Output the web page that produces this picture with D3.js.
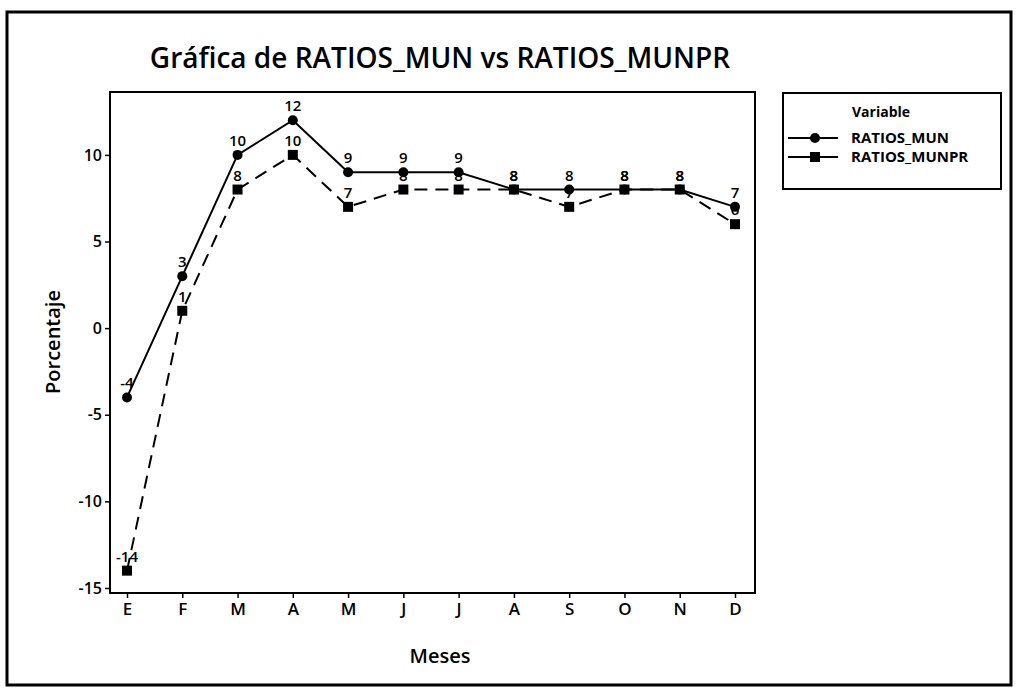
<!DOCTYPE html>
<html><head><meta charset="utf-8">
<script src="https://cdn.jsdelivr.net/npm/d3@7"></script>
<style>body{margin:0;background:#fff}svg text{font-family:"Open Sans",sans-serif;fill:#000}</style>
</head><body><svg id="c" width="1016" height="692"></svg>
<script>
const months = ["E","F","M","A","M","J","J","A","S","O","N","D"];
const ratiosMun = [-4,3,10,12,9,9,9,8,8,8,8,7];
const ratiosMunpr = [-14,1,8,10,7,8,8,8,7,8,8,6];
const yTicks = [-15,-10,-5,0,5,10];
const seriesNames = ["RATIOS_MUN","RATIOS_MUNPR"];

(function(){
const svg = d3.select("#c");
const pL=110,pR=755,pT=92,pB=593;
svg.append("rect").attr("x",7).attr("y",12).attr("width",1004).attr("height",673)
  .attr("fill","none").attr("stroke","#000").attr("stroke-width",3);

const idx = months.map((d,i)=>i);
const x = d3.scalePoint().domain(idx).range([127,735]);
const y = d3.scaleLinear().domain([-15.29,13.63]).range([pB,pT]);

svg.append("text").attr("x",440).attr("y",68).attr("text-anchor","middle")
  .style("font-size","28px").style("font-weight","600").text("Gráfica de RATIOS_MUN vs RATIOS_MUNPR");

svg.append("rect").attr("x",pL).attr("y",pT).attr("width",pR-pL).attr("height",pB-pT)
  .attr("fill","none").attr("stroke","#000").attr("stroke-width",2);

const yAxis = d3.axisLeft(y).tickValues(yTicks).tickFormat(d=>String(d)).tickSize(5).tickPadding(3);
const gy = svg.append("g").attr("transform",`translate(${pL},0)`).call(yAxis);
gy.select(".domain").remove();
gy.selectAll("line").attr("stroke","#000").attr("stroke-width",1.5);
gy.selectAll("text").style("font-size","16px").style("font-weight","600").style("font-family","'Open Sans',sans-serif");

const xAxis = d3.axisBottom(x).tickFormat(i=>months[i]).tickSize(5).tickPadding(5);
const gx = svg.append("g").attr("transform",`translate(0,${pB})`).call(xAxis);
gx.select(".domain").remove();
gx.selectAll("line").attr("stroke","#000").attr("stroke-width",1.5);
gx.selectAll("text").style("font-size","17px").style("font-weight","600").style("font-family","'Open Sans',sans-serif");

svg.append("text").attr("x",440).attr("y",663).attr("text-anchor","middle")
  .style("font-size","20px").style("font-weight","600").text("Meses");
svg.append("text").attr("transform","translate(60,342) rotate(-90)").attr("text-anchor","middle")
  .style("font-size","20px").style("font-weight","600").text("Porcentaje");

const line = d3.line().x((d,i)=>x(i)).y(d=>y(d));
svg.append("path").datum(ratiosMunpr).attr("d",line).attr("fill","none").attr("stroke","#000")
  .attr("stroke-width",2).attr("stroke-dasharray","13,8");
svg.append("path").datum(ratiosMun).attr("d",line).attr("fill","none").attr("stroke","#000")
  .attr("stroke-width",2);

svg.append("g").selectAll("rect").data(ratiosMunpr).enter().append("rect")
  .attr("x",(d,i)=>x(i)-5).attr("y",d=>y(d)-5).attr("width",10).attr("height",10).attr("fill","#000");
svg.append("g").selectAll("circle").data(ratiosMun).enter().append("circle")
  .attr("cx",(d,i)=>x(i)).attr("cy",d=>y(d)).attr("r",5).attr("fill","#000");

function labels(data){
  svg.append("g").selectAll("text").data(data).enter().append("text")
    .attr("x",(d,i)=>x(i)).attr("y",d=>y(d)-9).attr("text-anchor","middle")
    .style("font-size","15px").style("font-weight","600").text(d=>String(d));
}
labels(ratiosMunpr);
labels(ratiosMun);

svg.append("rect").attr("x",783).attr("y",93).attr("width",218).attr("height",96)
  .attr("fill","none").attr("stroke","#000").attr("stroke-width",2);
svg.append("text").attr("x",852).attr("y",117).style("font-size","14px").style("font-weight","700").text("Variable");
seriesNames.forEach((n,k)=>{
  const yy = 138 + k*19;
  svg.append("line").attr("x1",788).attr("x2",838).attr("y1",yy).attr("y2",yy).attr("stroke","#000").attr("stroke-width",2);
  if(k===0) svg.append("circle").attr("cx",815).attr("cy",yy).attr("r",5).attr("fill","#000");
  else svg.append("rect").attr("x",810).attr("y",yy-5).attr("width",10).attr("height",10).attr("fill","#000");
  svg.append("text").attr("x",851).attr("y",yy+5).style("font-size","15px").style("font-weight","700").text(n);
});
})();
</script></body></html>
